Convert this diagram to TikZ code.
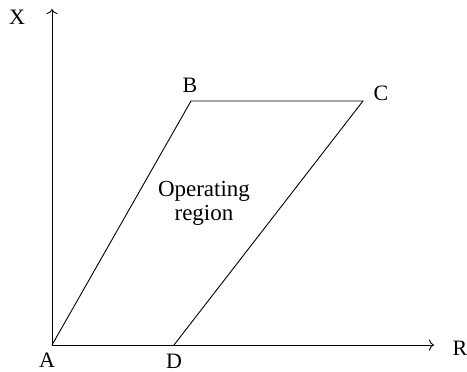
\documentclass[tikz,border=0pt]{standalone}
\usepackage{fontspec}
\setmainfont{Liberation Serif}
\usetikzlibrary{arrows.meta}
\begin{document}
\begin{tikzpicture}[x=1pt,y=1pt,
  lbl/.style={font=\fontsize{22}{24}\selectfont, inner sep=0pt},
  oplbl/.style={font=\fontsize{23}{24}\selectfont, inner sep=0pt, align=center},
  axis/.style={line width=0.9pt, -{To[length=5pt,width=11pt]}},
  edge/.style={line width=0.9pt}]
\useasboundingbox (0,0) rectangle (467,372);
\coordinate (A) at (52,27);
\coordinate (B) at (191,271);
\coordinate (C) at (363,271);
\coordinate (D) at (174,27);
\coordinate (Xt) at (52,363);
\coordinate (Rt) at (434,27);
\draw[axis] (A) -- (Xt);
\draw[axis] (A) -- (Rt);
\draw[edge] (A) -- (B) -- (C) -- (D);
\node[lbl] (lA) at (47,12) {A};
\node[lbl] (lD) at (174,11) {D};
\node[lbl] (lR) at (460,24) {R};
\node[lbl] (lX) at (17,355) {X};
\node[lbl] (lB) at (190,287) {B};
\node[lbl] (lC) at (381,279) {C};
\node[oplbl] (op) at (204,169) {Operating\\region};
\end{tikzpicture}
\end{document}
